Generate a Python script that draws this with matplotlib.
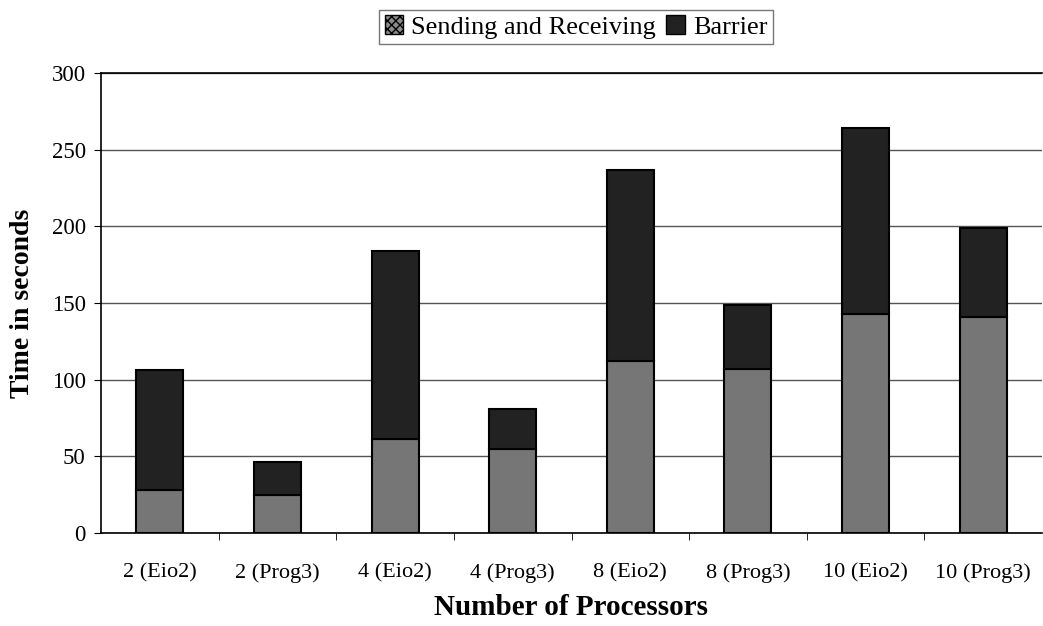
import matplotlib
matplotlib.use("Agg")
import matplotlib.pyplot as plt
import numpy as np
from matplotlib.patches import Patch

categories = ["2 (Eio2)", "2 (Prog3)", "4 (Eio2)", "4 (Prog3)",
              "8 (Eio2)", "8 (Prog3)", "10 (Eio2)", "10 (Prog3)"]
sending = [28, 25, 61, 55, 112, 107, 143, 141]
totals = [106, 46, 184, 81, 237, 149, 264, 199]
barrier = [t - s for t, s in zip(totals, sending)]
yticks = [0, 50, 100, 150, 200, 250, 300]

plt.rcParams['font.family'] = ['Liberation Serif', 'DejaVu Serif']

fig = plt.figure(figsize=(10.43, 6.26), dpi=100)
ax = fig.add_axes([101/1043, 1 - 533/626, 941/1043, 460/626])

x = np.arange(len(categories))
w = 0.4
gray = "#767676"
dark = "#222222"
ax.bar(x, sending, width=w, color=gray, edgecolor="black", linewidth=1.5, zorder=3)
ax.bar(x, barrier, width=w, bottom=sending, color=dark, edgecolor="black", linewidth=1.5, zorder=3)

ax.set_xlim(-0.5, len(categories) - 0.5)
ax.set_ylim(0, 300)
ax.set_yticks(yticks)
ax.set_yticklabels([str(v) for v in yticks], fontsize=16.5)
ax.set_xticks(x)
ax.set_xticklabels(categories, fontsize=16)
ax.tick_params(axis='x', length=0, pad=22)
ax.set_xticks(np.arange(len(categories) - 1) + 0.5, minor=True)
ax.tick_params(axis='x', which='minor', length=5, direction='out')
ax.tick_params(axis='y', length=5, direction='out', pad=6)

ax.yaxis.grid(True, color="#555555", linewidth=1.0, zorder=0)
for s in ax.spines.values():
    s.set_linewidth(1.2)
ax.spines['right'].set_visible(False)

ax.set_ylabel("Time in seconds", fontsize=20, fontweight='bold', labelpad=12)
ax.set_xlabel("Number of Processors", fontsize=21, fontweight='bold', labelpad=8)

handles = [Patch(facecolor="#8a8a8a", edgecolor="black", hatch="xxxx", label="Sending and Receiving"),
           Patch(facecolor=dark, edgecolor="black", label="Barrier")]
fig.legend(handles=handles, loc='center', bbox_to_anchor=(576/1043, 1 - 27/626), ncol=2,
           fontsize=19, frameon=True, fancybox=False, edgecolor="#555555",
           handlelength=0.7, handleheight=0.7, handletextpad=0.3, columnspacing=0.4,
           borderpad=0.2, borderaxespad=0)

fig.savefig("out.png", dpi=100)
